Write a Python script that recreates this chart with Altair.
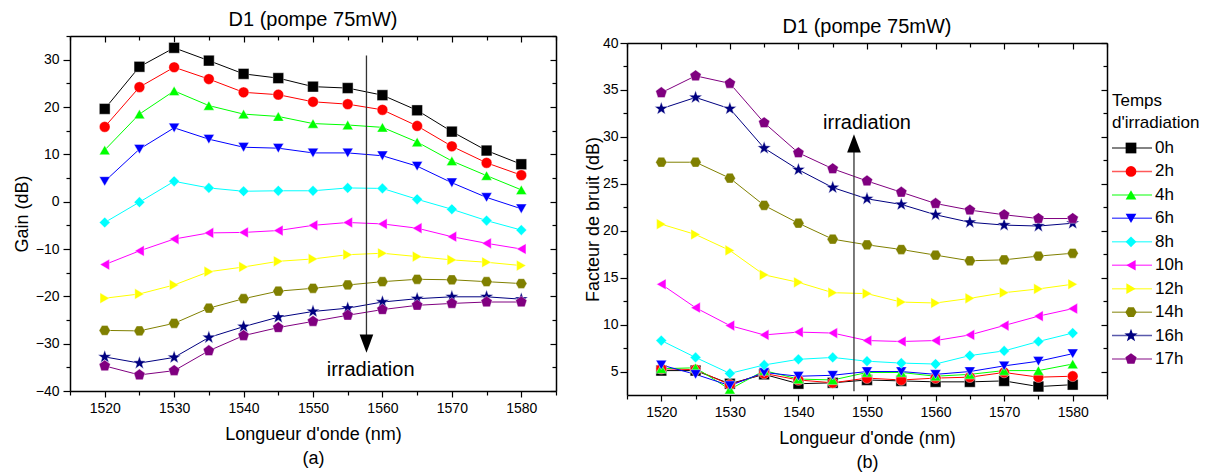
import math
import altair as alt
import pandas as pd

wavelengths = [1520, 1525, 1530, 1535, 1540, 1545, 1550, 1555, 1560, 1565, 1570, 1575, 1580]
series_names = ["0h", "2h", "4h", "6h", "8h", "10h", "12h", "14h", "16h", "17h"]

gain_0h = [19.6, 28.5, 32.5, 29.8, 27.0, 26.1, 24.3, 24.0, 22.5, 19.3, 14.8, 10.8, 7.9]
gain_2h = [15.8, 24.2, 28.4, 25.9, 23.1, 22.6, 21.1, 20.6, 19.4, 16.0, 11.7, 8.2, 5.6]
gain_4h = [10.9, 18.5, 23.4, 20.3, 18.5, 18.0, 16.5, 16.2, 15.7, 12.6, 8.6, 5.5, 2.5]
gain_6h = [4.3, 11.1, 15.6, 13.2, 11.5, 11.3, 10.3, 10.3, 9.7, 7.5, 4.0, 0.9, -1.5]
gain_8h = [-4.4, -0.1, 4.3, 2.9, 2.2, 2.3, 2.3, 2.9, 2.8, 0.5, -1.6, -4.0, -6.0]
gain_10h = [-13.3, -10.4, -7.9, -6.6, -6.5, -6.1, -5.0, -4.4, -4.7, -5.6, -7.4, -8.8, -10.0]
gain_12h = [-20.4, -19.5, -17.6, -14.8, -13.8, -12.6, -12.1, -11.2, -10.9, -11.6, -12.3, -12.8, -13.5]
gain_14h = [-27.2, -27.3, -25.7, -22.5, -20.5, -18.9, -18.3, -17.6, -16.9, -16.4, -16.5, -16.9, -17.3]
gain_16h = [-32.8, -34.1, -32.9, -28.7, -26.4, -24.4, -23.2, -22.5, -21.2, -20.5, -20.1, -20.1, -20.6]
gain_17h = [-34.7, -36.6, -35.7, -31.5, -28.3, -26.6, -25.3, -24.0, -22.8, -21.9, -21.5, -21.2, -21.2]

nf_0h = [5.1, 5.1, 3.7, 4.7, 3.7, 3.8, 4.1, 4.0, 3.9, 3.9, 4.0, 3.4, 3.6]
nf_2h = [5.3, 5.2, 3.6, 4.8, 4.1, 3.8, 4.3, 4.1, 4.3, 4.4, 4.9, 4.4, 4.5]
nf_4h = [5.3, 5.4, 3.1, 5.1, 4.2, 4.1, 4.9, 4.9, 4.5, 4.7, 5.1, 5.1, 5.8]
nf_6h = [5.7, 4.7, 3.5, 4.9, 4.5, 4.6, 5.0, 5.0, 4.7, 5.0, 5.6, 6.1, 6.9]
nf_8h = [8.3, 6.5, 4.8, 5.7, 6.3, 6.5, 6.1, 5.9, 5.8, 6.7, 7.2, 8.2, 9.1]
nf_10h = [14.3, 11.8, 9.9, 8.9, 9.2, 9.1, 8.3, 8.2, 8.3, 8.9, 9.9, 10.9, 11.7]
nf_12h = [20.7, 19.6, 17.9, 15.3, 14.5, 13.4, 13.3, 12.4, 12.3, 12.8, 13.4, 13.8, 14.3]
nf_14h = [27.3, 27.3, 25.6, 22.7, 20.8, 19.1, 18.5, 18.0, 17.4, 16.8, 16.9, 17.3, 17.6]
nf_16h = [33.0, 34.2, 33.0, 28.8, 26.5, 24.6, 23.4, 22.8, 21.7, 20.9, 20.6, 20.5, 20.8]
nf_17h = [34.7, 36.5, 35.7, 31.5, 28.3, 26.6, 25.3, 24.1, 22.9, 22.2, 21.7, 21.3, 21.3]

gain_series = [gain_0h, gain_2h, gain_4h, gain_6h, gain_8h, gain_10h, gain_12h, gain_14h, gain_16h, gain_17h]
nf_series = [nf_0h, nf_2h, nf_4h, nf_6h, nf_8h, nf_10h, nf_12h, nf_14h, nf_16h, nf_17h]

# annotation arrows (data coordinates)
arrow_a_x = [1557.7]
arrow_a_y = [30.9]
arrow_a_y2 = [-30.0]
text_a_x = [1558.3]
text_a_y = [-35.6]
arrow_b_x = [1548.1]
arrow_b_y = [2.9]
arrow_b_y2 = [29.3]
text_b_x = [1550.0]
text_b_y = [31.5]

x_major = [1520, 1530, 1540, 1550, 1560, 1570, 1580]
x_minor = [1515, 1525, 1535, 1545, 1555, 1565, 1575, 1585]
ga_major = [-40, -30, -20, -10, 0, 10, 20, 30]
ga_minor = [-35, -25, -15, -5, 5, 15, 25, 35]
nf_major = [5, 10, 15, 20, 25, 30, 35, 40]
nf_minor = [7.5, 12.5, 17.5, 22.5, 27.5, 32.5, 37.5]

colors = ["#000000", "#FF0000", "#00FF00", "#0000FF", "#00FFFF",
          "#FF00FF", "#FFFF00", "#808000", "#000080", "#800080"]


def poly_path(n, radius, start_deg):
    pts = []
    for k in range(n):
        a = math.radians(start_deg + 360.0 * k / n)
        pts.append((radius * math.cos(a), radius * math.sin(a)))
    return "M" + "L".join(f"{x:.3f},{y:.3f}" for x, y in pts) + "Z"


def star_path(ro, ri):
    pts = []
    for k in range(10):
        r = ro if k % 2 == 0 else ri
        a = math.radians(-90 + 36 * k)
        pts.append((r * math.cos(a), r * math.sin(a)))
    return "M" + "L".join(f"{x:.3f},{y:.3f}" for x, y in pts) + "Z"


shapes = ["square", "circle", "triangle-up", "triangle-down", "diamond",
          "triangle-left", "triangle-right", poly_path(6, 1.05, 0),
          star_path(1.3, 0.52), poly_path(5, 1.1, -90)]

color_scale = alt.Scale(domain=series_names, range=colors)
shape_scale = alt.Scale(domain=series_names, range=shapes)

rows = []
for s, g, n in zip(series_names, gain_series, nf_series):
    for w, gv, nv in zip(wavelengths, g, n):
        rows.append({"series": s, "wl": w, "gain": gv, "nf": nv})
df = pd.DataFrame(rows)

FONT = "Liberation Sans"
AX = dict(grid=False, domainColor="black", tickColor="black", labelColor="black",
          titleColor="black", domainWidth=1.5, tickWidth=1.2)


def panel(field, ydom, ymaj, ymin, ytitle, xtitle, width, height, top_pad, title_offset,
          ax, ay, ay2, tx, ty, head_path, ylab_pad, ytitle_pad):
    xs = alt.Scale(domain=[1515, 1585], nice=False, zero=False)
    if top_pad:
        ys = alt.Scale(domain=ydom, nice=False, zero=False, range=[height, top_pad])
    else:
        ys = alt.Scale(domain=ydom, nice=False, zero=False)
    inner = height - top_pad
    base = alt.Chart(df)

    def axlayer(xaxis, yaxis):
        return base.mark_point(opacity=0).encode(
            x=alt.X("wl:Q", scale=xs, axis=xaxis),
            y=alt.Y(f"{field}:Q", scale=ys, axis=yaxis),
        )

    l1 = axlayer(
        alt.Axis(orient="bottom", values=x_major, format="d", tickSize=6, labelFontSize=14,
                 labelPadding=4, title=xtitle, titleFontSize=18, titleFontWeight="normal",
                 titlePadding=10, titleLineHeight=24, **AX),
        alt.Axis(orient="left", values=ymaj, format="d", tickSize=7, labelFontSize=14,
                 labelPadding=ylab_pad, title=ytitle, titleFontSize=18, titleFontWeight="normal",
                 titlePadding=ytitle_pad, **AX),
    )
    l2 = axlayer(
        alt.Axis(orient="bottom", values=x_minor, tickSize=4, labels=False, domain=False,
                 title=None, **AX),
        alt.Axis(orient="left", values=ymin, tickSize=4, labels=False, domain=False,
                 title=None, **AX),
    )
    l3 = axlayer(
        alt.Axis(orient="bottom", offset=-inner, values=x_major, tickSize=6, labels=False,
                 title=None, **AX),
        alt.Axis(orient="left", offset=-width, values=ymaj, tickSize=6, labels=False,
                 title=None, **AX),
    )
    l4 = axlayer(
        alt.Axis(orient="bottom", offset=-inner, values=x_minor, tickSize=4, labels=False,
                 domain=False, title=None, **AX),
        alt.Axis(orient="left", offset=-width, values=ymin, tickSize=4, labels=False,
                 domain=False, title=None, **AX),
    )
    lines = base.mark_line(strokeWidth=1).encode(
        x=alt.X("wl:Q", scale=xs, axis=None),
        y=alt.Y(f"{field}:Q", scale=ys, axis=None),
        color=alt.Color("series:N", scale=color_scale, legend=None),
    )
    points = base.mark_point(filled=True, size=115, opacity=1, stroke="white",
                             strokeWidth=0.4).encode(
        x=alt.X("wl:Q", scale=xs, axis=None),
        y=alt.Y(f"{field}:Q", scale=ys, axis=None),
        color=alt.Color("series:N", scale=color_scale, legend=None),
        shape=alt.Shape("series:N", scale=shape_scale, legend=None),
    )
    adf = pd.DataFrame({"x": ax, "y": ay, "y2": ay2})
    arrow = alt.Chart(adf).mark_rule(color="#333333", strokeWidth=1.3).encode(
        x=alt.X("x:Q", scale=xs, axis=None),
        y=alt.Y("y:Q", scale=ys, axis=None),
        y2="y2:Q",
    )
    head = alt.Chart(adf).mark_point(shape=head_path, filled=True, color="black",
                                     size=330, opacity=1).encode(
        x=alt.X("x:Q", scale=xs, axis=None),
        y=alt.Y("y2:Q", scale=ys, axis=None),
    )
    tdf = pd.DataFrame({"x": tx, "y": ty, "t": ["irradiation"]})
    txt = alt.Chart(tdf).mark_text(fontSize=20, font=FONT, color="black",
                                   align="center", baseline="middle").encode(
        x=alt.X("x:Q", scale=xs, axis=None),
        y=alt.Y("y:Q", scale=ys, axis=None),
        text="t:N",
    )
    return alt.layer(l1, l2, l3, l4, lines, points, arrow, head, txt).resolve_axis(
        x="independent", y="independent"
    ).properties(
        width=width, height=height,
        title=alt.TitleParams("D1 (pompe 75mW)", fontSize=20, fontWeight="normal",
                              font=FONT, color="black", frame="group", offset=title_offset),
    )


left = panel("gain", [-40, 35], ga_major, ga_minor, "Gain (dB)",
             ["Longueur d'onde (nm)", "(a)"], 486, 355, 0, 5,
             arrow_a_x, arrow_a_y, arrow_a_y2, text_a_x, text_a_y,
             "M-0.75,-1L0.75,-1L0,1Z", 4, 4)
right = panel("nf", [2.5, 40], nf_major, nf_minor, "Facteur de bruit (dB)",
              ["Longueur d'onde (nm)", "(b)"], 480, 359, 7, -1,
              arrow_b_x, arrow_b_y, arrow_b_y2, text_b_x, text_b_y,
              "M-0.75,1L0.75,1L0,-1Z", 2, 0)

# legend panel
leg_df = pd.DataFrame({"series": series_names, "idx": list(range(len(series_names)))})
leg_y = alt.Scale(domain=[-4.776, 10.533], reverse=True, nice=False, zero=False)
leg_base = alt.Chart(leg_df)
leg_lines = leg_base.mark_rule(strokeWidth=1.5, strokeOpacity=0.65).encode(
    x=alt.value(3), x2=alt.value(43),
    y=alt.Y("idx:Q", scale=leg_y, axis=None),
    color=alt.Color("series:N", scale=color_scale, legend=None),
)
leg_pts = leg_base.mark_point(filled=True, size=115, opacity=1).encode(
    x=alt.value(22),
    y=alt.Y("idx:Q", scale=leg_y, axis=None),
    color=alt.Color("series:N", scale=color_scale, legend=None),
    shape=alt.Shape("series:N", scale=shape_scale, legend=None),
)
leg_txt = leg_base.mark_text(align="left", baseline="middle", fontSize=17, font=FONT,
                             color="black").encode(
    x=alt.value(46),
    y=alt.Y("idx:Q", scale=leg_y, axis=None),
    text="series:N",
)
leg_title_df = pd.DataFrame({"idx": [-2.0, -1.07], "t": ["Temps", "d'irradiation"]})
leg_title = alt.Chart(leg_title_df).mark_text(align="left", baseline="middle", fontSize=17,
                                              font=FONT, color="black").encode(
    x=alt.value(3),
    y=alt.Y("idx:Q", scale=leg_y, axis=None),
    text="t:N",
)
legend = alt.layer(leg_lines, leg_pts, leg_txt, leg_title).properties(
    width=90, height=359,
)

chart = alt.hconcat(
    left, alt.hconcat(right, legend, spacing=1), spacing=27
).properties(
    padding={"left": 5, "top": 2, "right": 0, "bottom": 3}
).configure(font=FONT).configure_view(stroke="transparent", strokeWidth=0)

chart.save("out.html", embed_options={"renderer": "svg", "actions": False})
